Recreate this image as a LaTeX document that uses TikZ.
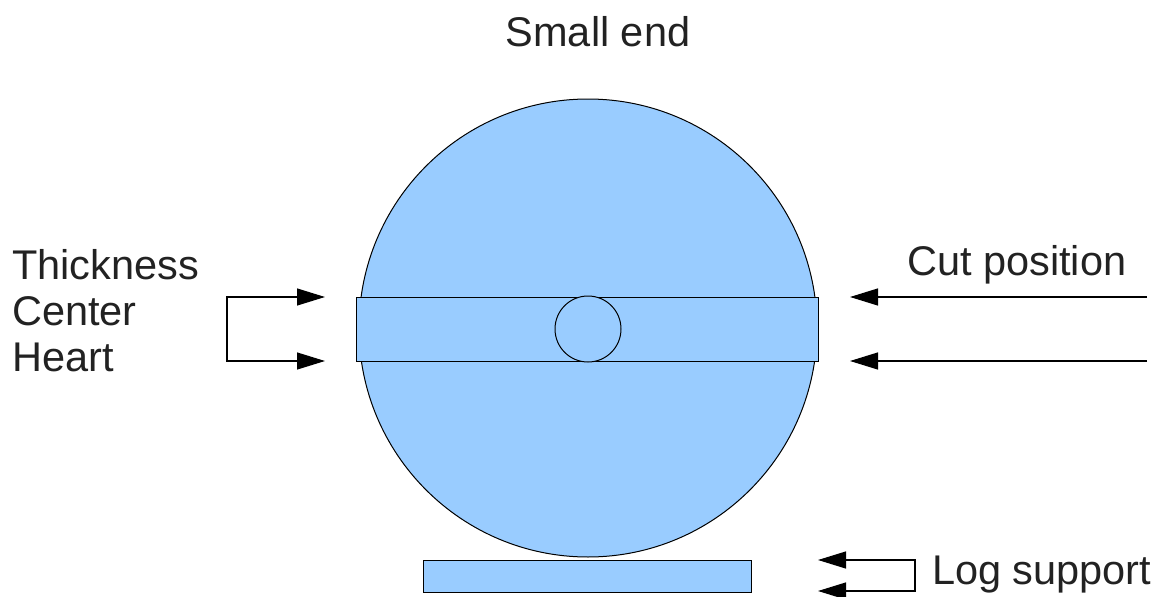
\documentclass[tikz,border=0pt]{standalone}
\usepackage{fontspec}
\setmainfont{Liberation Sans}
\usetikzlibrary{arrows.meta}
\definecolor{logblue}{HTML}{99CCFF}
\definecolor{txt}{HTML}{222222}
\begin{document}
\begin{tikzpicture}[x=1pt,y=-1pt,
  shp/.style={draw=black,fill=logblue,line width=1pt,inner sep=0pt,outer sep=0pt},
  conn/.style={draw=black,line width=1.2pt},
  tip/.style={-{Triangle[length=28pt,width=17pt]}},
  tips/.style={{Triangle[length=28pt,width=17pt]}-{Triangle[length=28pt,width=17pt]}},
  lbl/.style={font=\fontsize{41.5}{46}\selectfont,text=txt,inner sep=0pt}]
\useasboundingbox (0,0) rectangle (1163,597);
\node[shp,circle,minimum size=458pt] (log) at (588,328) {};
\node[shp,rectangle,minimum width=462pt,minimum height=64pt] (band) at (587,329) {};
\node[shp,circle,minimum size=66pt] (heart) at (588,329) {};
\node[shp,rectangle,minimum width=328pt,minimum height=32pt] (support) at (587,576) {};
% labels
\node[lbl] (small) at (598,32) {Small end};
\node[lbl,align=left,anchor=west] (tch) at (12,311) {Thickness\\Center\\Heart};
\node[lbl,anchor=west] (cut) at (907,265) {Cut position};
\node[lbl,anchor=west] (ls) at (932,575) {Log support};
% left bracket
\coordinate (lt1) at (325,297);
\coordinate (lt2) at (325,361);
\coordinate (lc1) at (227,297);
\coordinate (lc2) at (227,361);
\draw[conn,tips] (lt1) -- (lc1) -- (lc2) -- (lt2);
% right arrows
\coordinate (rs1) at (1147,297);
\coordinate (rt1) at (850,297);
\coordinate (rs2) at (1147,361);
\coordinate (rt2) at (850,361);
\draw[conn,tip] (rs1) -- (rt1);
\draw[conn,tip] (rs2) -- (rt2);
% log support bracket
\coordinate (st1) at (818,560);
\coordinate (sc1) at (915,560);
\coordinate (sc2) at (915,591);
\coordinate (st2) at (818,591);
\draw[conn,tips] (st1) -- (sc1) -- (sc2) -- (st2);
\end{tikzpicture}
\end{document}
